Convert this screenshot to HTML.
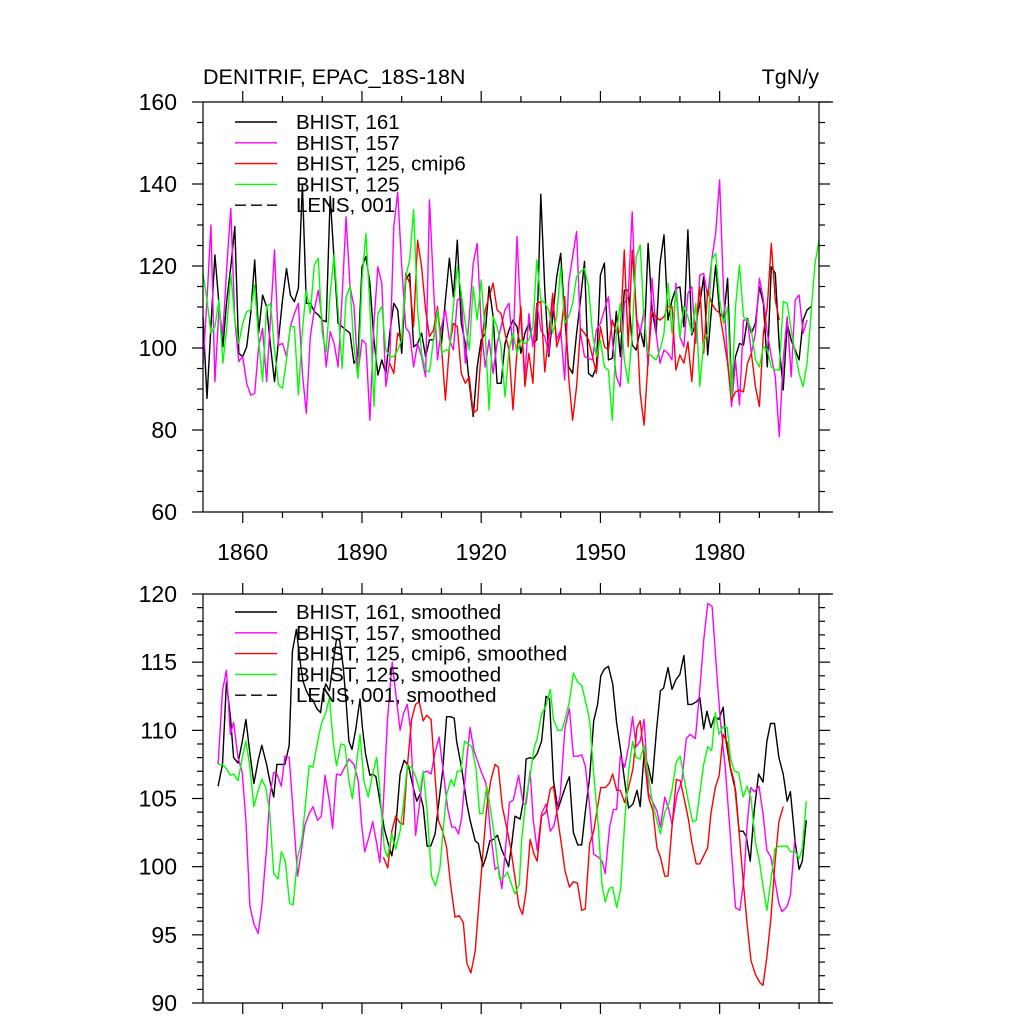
<!DOCTYPE html>
<html><head><meta charset="utf-8"><style>
html,body{margin:0;padding:0;background:#fff;}
svg{display:block;font-family:"Liberation Sans",sans-serif;}
</style></head><body>
<svg id="chart" width="1024" height="1024" viewBox="0 0 1024 1024" xmlns="http://www.w3.org/2000/svg">
<text x="203" y="84" font-size="21.5">DENITRIF, EPAC_18S-18N</text>
<text x="819" y="84" font-size="21.5" text-anchor="end">TgN/y</text>
<g id="top"></g>
<g id="bot"></g>
</svg>
<script>
// ---- top panel (annual) data ----
const topStartBlack = 1850;
const topBlack = [107.6,87.7,105.2,122.7,110.9,100.3,111.7,119.8,129.6,98.7,97.9,100.3,108.4,121.5,103.6,112.9,110.1,100.3,91.8,102.0,111.7,119.4,112.9,111.3,114.6,140,110.9,110.9,108.9,108.1,106.8,106.4,137,121.5,106.0,105.2,104.4,103.6,96.3,97.9,119.8,122.3,115.8,102.0,93.4,97.1,93.8,103.6,110.9,109.3,98.7,116.6,
118.2,100.3,101.1,103.6,97.9,102,102,109.3,101.1,111.7,121.9,112.5,126.3,106,101.1,91.4,83.3,95.4,102,103.6,115,107.6,91.4,91.4,101.1,104.4,106.8,105.2,98.7,103.6,106,101.1,102,137.5,114.1,97.9,107.6,117.4,123.1,107.6,95.4,93.8,103.6,111.7,121.1,93.8,93.0,95.4,117.8,120.7,
97.1,97.5,108.9,97.9,114.1,114.1,100.7,99.5,104.4,100.3,125.5,109.3,103.6,120.6,127.6,106.8,111.7,114.5,114.9,105.2,128.8,103.2,106,110.9,117.4,98.3,110.1,120.2,108.5,107.2,117,89.4,97.9,101.1,100.7,107.2,103.6,106,114.9,110.9,95.4,119.8,118.2,100.3,89.8,106,101.9,99.5,97.1,106.8,109.3,110.1];
const topStartMagenta = 1850;
const topMagenta = [96.3,111.7,130.0,91.8,109.3,103.6,119.8,134.1,106.8,96.7,97.9,91.4,88.5,88.9,100.3,104.8,91.8,107.6,123.9,100.7,101.1,97.9,105.2,108.4,110.9,93.8,84.1,102.8,109.3,114.1,106.8,95.4,104.0,101.1,95.4,112.5,132.0,115.0,110.1,93.8,102.0,101.1,82.4,106.0,119.8,115.8,90.6,97.1,129.6,138,120,105,
103.6,95.4,101.1,97.9,93,136.1,115,97.1,105.2,109.3,102,99.5,111.7,112.5,96.3,107.6,120.7,125.5,105.2,95.4,102,93.8,101.1,105.2,109.3,110.9,99.5,127.2,106.8,93,108.4,100.3,110.9,104.4,102.8,98.7,111.7,102,104.4,92.2,115.8,122.3,128.4,103.6,97.9,97.5,97.1,104.4,106,109.3,112.5,102,
93,90.6,110.9,112.5,133.2,107.6,103.6,109.3,95.8,117,103.6,96.3,99.5,98.7,97.1,115.8,102.7,100.3,113.3,114.9,101.1,117.8,118.2,112.5,121.5,128,141,113.3,97.1,85.7,97.1,86.1,106.8,106.8,98.7,103.6,117,111.7,103.6,97.9,93,78.4,97.1,107.6,93,111.7,112.9,103.6,106.8];
const topStartRed = 1897;
const topRed = [96.3,93.8,103.6,102,118.2,
115.8,105.2,126.3,119.8,109.3,102.8,104.4,110.1,100.3,87.3,100.3,106,105.2,93.8,91.4,93,84.1,84.9,99.5,109.3,112.5,115.8,109.3,108.4,103.6,99.5,84.9,99.5,110.1,90.6,98.7,91.4,110.9,111.3,94.2,103.6,113.3,100.3,103.6,112.5,93,82.4,90.6,104.8,103.6,102,97.9,93.8,
105.2,100.3,99.5,106.8,103.6,104,123.9,100.3,123.9,109.3,88.9,81.2,97.1,108.9,107.6,106.8,107.6,110.1,110.1,94.6,98.3,96.3,101.5,91.8,105.2,114.9,98.7,114.1,110.9,109.3,108.5,102.7,96.3,87.3,89.3,89.7,89.3,96.3,98.7,90.6,85.7,103.6,110.1,125.5,111.7,106.8];
const topStartGreen = 1850;
const topGreen = [118.2,111.7,103.6,105.2,111.7,96.3,105.2,118.2,106.8,101.1,106.0,108.9,109.3,115.4,102.0,91.8,110.1,110.9,99.5,91.0,90.2,97.1,105.2,105.2,88.5,104.4,114.1,108.4,120.2,121.9,103.6,99.1,113.3,122.7,109.3,95.0,112.5,115.0,100.3,92.6,116.6,128.0,110.1,85.7,108.4,110.1,99.5,97.9,97.9,99.5,102.0,117.4,
121.5,133.7,109.3,98.7,94.6,94.2,102,109.3,98.7,99.5,99.5,110.1,119.8,113.3,106,99.5,115,106.8,116.6,103.6,84.9,107.6,105.2,100.3,88.1,99.5,103.6,98.7,102,101.1,102,105.2,121.5,111.7,110.9,109.3,103.6,107.6,119.8,106,107.6,110.9,117.4,118.6,119.4,115,103.6,97.9,102,95.4,94.6,82.4,
103.6,110.9,97.1,91.4,103.6,122.3,125.1,106.8,98.7,97.9,97.1,99.5,103.6,115.8,103.6,114.1,102.7,110.1,107.6,103.6,110.9,90.6,101.5,103.6,121.5,123.1,111.7,106,110.1,88.1,110.1,120.2,107.6,106.8,104.4,97.1,95.4,100.3,99.5,95.4,94.6,94.6,111.3,110.9,104.4,98.7,93.8,90.6,96.3,108.5,120.6,126.3];

// ---- bottom panel (smoothed) data: years and values ----
const smBlackYears = [1853.8,1854.9,1855.9,1856.9,1857.7,1858.8,1859.9,1860.8,1861.8,1862.8,1863.9,1864.8,1866.0,1866.8,1867.8,1868.6,1869.7,1870.6,1871.7,1872.5,1873.5,1874.4,1875.2,1876.0,1876.9,1877.7,1878.6,1879.6,1880.2,1880.9,1881.8,1882.8,1883.6,1884.4,1885.3,1886.1,1886.7,1887.5,1888.4,1889.5,1890.1,1890.9,1892.0,1892.7,1893.5,1894.5,1895.6,1896.6,1897.5,1898.3,1899.6,1900.6,1901.7,1902.9,1903.8,1904.6,1905.4,1906.4,1907.3,1908.4,1909.2,1910.3,1911.3,1912.3,1913.2,1913.8,1915.1,1916.4,1917.2,1918.5,1919.3,1920.4,1921.2,1922.2,1923.1,1924.1,1925.2,1926.0,1926.9,1927.7,1928.5,1929.8,1930.6,1931.3,1932.3,1933.1,1934.1,1935.2,1936.3,1937.2,1938.2,1939.3,1940.3,1941.5,1942.2,1943.2,1944.3,1945.3,1946.2,1947.3,1948.3,1949.3,1950.1,1951.0,1952.0,1953.1,1954.1,1955.2,1956.3,1957.1,1958.2,1959.2,1960.0,1961.0,1962.1,1963.0,1964.1,1965.1,1965.9,1967.0,1968.0,1969.0,1970.0,1971.0,1972.0,1973.0,1974.2,1975.0,1976.0,1976.8,1977.8,1978.7,1979.8,1980.9,1981.6,1982.7,1984.0,1984.9,1985.9,1986.7,1987.7,1988.7,1989.8,1990.9,1991.9,1992.8,1993.8,1994.9,1996.0,1997.0,1997.8,1999.0,2000.0,2000.8,2001.8];
const smBlack = [105.9,107.5,113.5,111.0,108.0,107.6,109.2,110.8,108.3,106.1,107.8,108.9,107.5,106.3,105.1,107.5,107.5,107.5,108.9,115.8,117.4,115.1,113.6,112.9,112.4,112.2,111.6,111.3,112.7,113.4,112.9,115.1,116.7,116.6,114.6,111.7,109.2,108.6,110.0,112.3,110.2,108.3,106.7,106.8,106.6,104.8,102.8,101.7,100.8,102.2,106.8,107.8,107.4,105.8,104.8,105.3,104.4,101.5,101.5,102.4,104.4,107.0,111.0,111.0,110.9,109.2,107.2,104.6,103.4,101.9,101.7,100.0,100.7,101.9,102.0,102.3,101.2,100.7,100.0,101.7,103.7,103.5,104.8,107.9,108.0,107.9,108.3,109.2,112.5,112.3,106.3,104.2,105.1,106.1,106.6,102.5,101.6,101.6,104.0,106.6,110.7,111.9,114.0,114.5,114.7,113.4,110.5,108.3,105.8,104.3,104.6,105.6,104.4,108.3,107.3,106.1,110.0,112.9,113.1,114.6,113.0,113.7,114.1,115.5,111.9,111.9,112.1,112.4,110.1,111.4,110.2,111.0,110.8,111.7,109.2,107.2,105.6,102.6,102.6,102.2,100.4,104.1,106.8,106.2,109.2,110.5,110.5,108.0,106.8,104.8,105.5,101.8,99.8,100.4,103.4];
const smMagentaYears = [1853.8,1854.9,1855.9,1856.9,1857.7,1858.8,1859.9,1860.8,1861.8,1862.8,1863.9,1864.8,1866.0,1866.8,1867.8,1868.6,1869.7,1870.6,1871.7,1872.5,1873.8,1874.8,1875.6,1876.7,1877.7,1878.8,1879.8,1880.7,1881.8,1882.6,1883.6,1884.6,1885.7,1886.7,1888.0,1889.1,1889.9,1890.7,1891.8,1892.7,1893.7,1894.5,1895.4,1896.4,1897.6,1898.6,1899.6,1900.4,1901.4,1902.2,1903.5,1904.4,1905.4,1906.4,1907.4,1908.4,1909.4,1910.5,1911.6,1912.6,1913.4,1914.3,1915.1,1916.4,1917.2,1918.2,1919.0,1920.1,1921.2,1922.4,1923.5,1924.3,1925.2,1926.3,1927.1,1928.1,1929.4,1930.6,1931.3,1932.3,1933.1,1934.1,1935.2,1936.3,1937.4,1938.3,1939.9,1941.1,1942.2,1943.2,1944.3,1945.3,1946.2,1947.3,1948.3,1949.5,1950.4,1951.2,1952.3,1953.3,1954.1,1955.0,1956.1,1957.1,1958.1,1959.0,1960.0,1961.0,1962.1,1963.2,1964.2,1965.1,1966.2,1967.2,1968.0,1969.3,1970.5,1971.6,1972.6,1973.9,1975.0,1976.0,1977.0,1978.1,1979.2,1980.2,1981.4,1982.7,1984.0,1985.1,1986.1,1986.9,1987.8,1988.8,1989.9,1990.9,1991.9,1992.9,1993.9,1994.9,1995.7,1997.0,1997.8,1998.9];
const smMagenta = [107.5,112.9,114.4,109.7,110.6,108.0,106.9,103.4,97.1,95.8,95.1,97.1,101.4,105.2,106.9,106.8,105.9,108.1,108.0,104.8,99.3,101.3,103.0,103.9,104.4,103.4,103.7,106.7,104.8,102.8,106.8,106.7,107.3,107.9,107.5,106.2,103.1,101.1,102.2,103.3,101.7,100.3,104.7,110.7,115.0,112.5,110.0,111.2,111.9,110.1,102.3,104.4,106.9,107.0,106.8,108.4,109.5,106.9,104.2,102.9,102.9,102.4,103.6,108.0,110.2,108.5,107.8,106.9,106.1,102.4,99.8,100.0,98.4,101.9,104.7,104.9,106.7,104.6,104.6,107.0,103.4,101.2,103.9,104.6,102.6,103.0,105.3,110.2,111.6,108.1,108.1,108.2,107.4,104.4,100.9,100.7,100.4,99.5,102.9,104.2,104.2,108.1,107.3,108.8,111.0,108.8,109.2,110.8,105.4,104.7,104.1,102.9,105.1,104.2,103.1,105.3,106.3,109.4,109.7,109.4,113.0,116.6,119.3,119.1,114.5,110.7,107.3,102.2,97.0,96.8,99.1,103.0,105.8,105.5,105.9,103.9,101.2,100.7,99.0,97.3,96.7,97.1,97.9,102.0];
const smRedYears = [1895.4,1896.5,1897.5,1898.5,1899.6,1900.4,1901.4,1902.5,1903.5,1904.4,1905.4,1906.3,1907.4,1908.4,1909.2,1910.3,1911.3,1912.3,1913.4,1914.5,1915.5,1916.4,1917.4,1918.5,1919.3,1920.4,1921.4,1922.4,1923.5,1924.3,1925.3,1926.4,1927.4,1928.5,1929.5,1930.4,1931.3,1932.3,1933.3,1934.1,1935.2,1936.3,1937.4,1938.2,1939.3,1940.3,1941.1,1942.2,1943.2,1944.2,1945.3,1946.2,1947.3,1948.3,1949.3,1950.1,1951.2,1952.2,1953.1,1954.1,1955.0,1956.1,1957.1,1958.2,1959.2,1960.0,1961.0,1962.1,1963.2,1964.2,1965.1,1966.2,1967.0,1968.0,1969.1,1970.1,1971.2,1972.2,1973.0,1974.1,1975.0,1976.0,1977.0,1977.8,1978.9,1979.9,1980.9,1981.9,1982.7,1983.7,1984.8,1985.9,1986.9,1987.9,1989.0,1990.1,1990.9,1991.9,1992.9,1993.9,1994.9,1996.0];
const smRed = [100.7,99.9,102.6,103.7,103.2,103.1,107.3,110.8,111.9,112.1,110.7,111.1,110.8,106.6,103.4,102.6,101.4,98.7,96.3,96.4,95.9,92.9,92.2,93.8,96.8,100.9,104.4,106.3,107.5,107.3,104.4,102.9,101.4,99.2,97.1,96.5,98.2,102.0,100.9,100.4,103.7,104.0,105.7,105.9,103.4,101.4,99.7,98.5,98.9,98.8,96.8,96.9,101.7,102.6,104.4,105.8,105.8,106.1,106.8,105.6,105.6,104.7,105.8,107.2,110.2,110.7,108.1,105.1,104.1,101.4,100.7,99.3,99.3,102.9,106.4,106.3,104.8,103.4,101.8,100.2,100.2,100.8,101.4,103.9,105.8,106.7,109.7,109.1,107.3,106.2,102.9,99.0,95.8,93.1,92.1,91.5,91.3,93.4,96.2,100.2,103.3,104.4];
const smGreenYears = [1853.8,1854.9,1855.9,1856.9,1857.7,1858.8,1859.9,1860.8,1861.8,1862.8,1863.9,1864.8,1865.8,1866.8,1867.8,1868.9,1869.7,1870.7,1871.8,1872.7,1873.8,1874.8,1875.6,1876.7,1877.7,1878.7,1879.8,1880.9,1881.8,1882.8,1883.6,1884.7,1885.7,1886.7,1887.6,1888.6,1889.5,1890.5,1891.6,1892.6,1893.7,1894.5,1895.6,1896.4,1897.5,1898.5,1899.6,1900.4,1901.4,1902.5,1903.5,1904.6,1905.4,1906.4,1907.5,1908.5,1909.6,1910.5,1911.3,1912.4,1913.2,1914.0,1914.9,1915.8,1916.8,1917.6,1918.7,1919.6,1920.4,1921.4,1922.4,1923.5,1924.6,1925.6,1926.6,1927.4,1928.5,1929.6,1930.2,1931.3,1932.3,1933.3,1934.1,1935.2,1936.3,1937.4,1938.2,1939.3,1940.3,1941.1,1942.2,1943.2,1944.3,1945.3,1946.2,1947.3,1948.3,1949.5,1950.4,1951.2,1952.2,1953.1,1954.1,1955.1,1956.1,1957.1,1958.1,1959.0,1960.0,1961.0,1962.1,1963.2,1964.2,1965.1,1966.2,1967.2,1968.0,1969.1,1970.1,1971.2,1972.2,1973.2,1974.1,1975.0,1976.0,1977.0,1978.0,1978.9,1979.9,1980.9,1981.9,1982.7,1983.7,1984.8,1985.9,1986.9,1987.9,1989.0,1990.0,1990.9,1991.9,1992.9,1993.9,1994.9,1996.0,1997.0,1997.8,1999.0,2000.0,2000.8,2001.8];
const smGreen = [107.5,107.5,107.2,106.7,106.8,106.3,108.0,109.2,107.3,104.4,105.6,106.4,105.8,103.9,99.5,99.1,101.1,100.4,97.3,97.2,100.7,101.8,104.0,107.4,107.3,109.0,110.5,111.3,112.4,109.0,107.4,109.0,108.9,106.3,105.0,107.5,109.7,106.2,105.1,106.7,108.0,105.6,101.4,100.7,102.4,101.3,102.6,104.5,107.4,107.3,106.6,105.5,107.0,104.1,99.3,98.6,99.9,102.9,105.3,106.4,105.9,107.0,107.0,109.2,109.0,108.8,107.2,103.9,103.9,105.9,104.1,101.9,99.1,99.2,99.6,98.9,98.0,98.7,102.0,105.1,106.7,108.7,109.4,111.2,111.8,113.0,110.8,110.0,110.0,110.8,112.1,114.2,113.5,113.3,112.2,110.7,106.8,102.9,98.7,97.4,98.4,98.5,97.0,98.4,103.3,107.0,109.2,108.0,107.9,108.9,106.6,104.5,103.4,102.4,104.0,104.6,105.6,107.7,108.1,106.2,104.7,103.3,103.4,105.4,107.5,108.8,108.5,111.3,109.7,110.3,110.2,108.0,107.0,106.9,105.1,105.9,105.0,101.8,100.4,98.6,96.8,99.0,101.3,101.5,101.5,101.5,101.1,101.1,100.6,101.3,104.8];

const topLegendLabels = ["BHIST, 161","BHIST, 157","BHIST, 125, cmip6","BHIST, 125","LENS, 001"];
const botLegendLabels = ["BHIST, 161, smoothed","BHIST, 157, smoothed","BHIST, 125, cmip6, smoothed","BHIST, 125, smoothed","LENS, 001, smoothed"];
const xMajorTicks = [1860,1890,1920,1950,1980];
const topYTicks = [60,80,100,120,140,160];
const botYTicks = [90,95,100,105,110,115,120];

const NS = "http://www.w3.org/2000/svg";
const X0 = 203, X1 = 819, YEAR0 = 1850, YEAR1 = 2005;
function xs(yr){ return X0 + (yr - YEAR0) / (YEAR1 - YEAR0) * (X1 - X0); }
function mk(tag, attrs, parent){
  const e = document.createElementNS(NS, tag);
  for (const k in attrs) e.setAttribute(k, attrs[k]);
  parent.appendChild(e);
  return e;
}
const colors = ["#000000","#ff00ff","#ff0000","#00ff00","#000000"];

function panel(g, yTop, yBot, vMin, vMax, majorStep, minorStep, series){
  const ys = v => yBot - (v - vMin) / (vMax - vMin) * (yBot - yTop);
  series.forEach((s, i) => {
    const pts = [];
    for (let k = 0; k < s.vals.length; k++) {
      if (s.years[k] > YEAR1) continue;
      pts.push(xs(s.years[k]).toFixed(1) + "," + ys(s.vals[k]).toFixed(1));
    }
    const pl = mk("polyline", {points: pts.join(" "), fill: "none", stroke: s.color, "stroke-width": 1.4, "stroke-linejoin": "round"}, g);
    
    
  });
  const fr = mk("g", {stroke: "#000", "stroke-width": 1.2}, g);
  
  
  mk("line", {x1: X0, y1: yTop, x2: 833, y2: yTop}, fr);
  mk("line", {x1: X0, y1: yBot, x2: 833, y2: yBot}, fr);
  mk("line", {x1: X0, y1: yTop, x2: X0, y2: yBot}, fr);
  mk("line", {x1: X1, y1: yTop, x2: X1, y2: yBot}, fr);
  for (let v = vMin; v <= vMax + 1e-6; v += minorStep) {
    const y = ys(v);
    const major = Math.abs((v - vMin) / majorStep - Math.round((v - vMin) / majorStep)) < 1e-6;
    const len = major ? 11 : 6;
    mk("line", {x1: X0 - len, y1: y, x2: X0, y2: y}, fr);
    mk("line", {x1: X1, y1: y, x2: X1 + len, y2: y}, fr);
  }
  for (let yr = 1860; yr <= 2000; yr += 10) {
    const x = xs(yr);
    const major = xMajorTicks.indexOf(yr) >= 0;
    const len = major ? 11 : 6;
    mk("line", {x1: x, y1: yTop, x2: x, y2: yTop - len}, fr);
    mk("line", {x1: x, y1: yBot, x2: x, y2: yBot + len}, fr);
  }
  return ys;
}

function labelsY(g, ys, ticks){
  ticks.forEach(v => {
    const t = mk("text", {x: 177, y: ys(v) + 8, "font-size": 23, "text-anchor": "end"}, g);
    t.textContent = String(v);
    
    
  });
}
function legend(g, labels, y0){
  labels.forEach((lab, i) => {
    const y = y0 + i * 20.8;
    const ln = mk("line", {x1: 235, y1: y, x2: 277, y2: y, stroke: colors[i], "stroke-width": 1.4}, g);
    if (i === 4) ln.setAttribute("stroke-dasharray", "11,5");
    
    
    const t = mk("text", {x: 296, y: y + 7, "font-size": 20.5}, g);
    t.textContent = lab;
    
    
  });
}
function yearsFrom(start, n){ const a = []; for (let i = 0; i < n; i++) a.push(start + i); return a; }

const gTop = document.getElementById("top");
const ysTop = panel(gTop, 102, 512, 60, 160, 20, 5, [
  {years: yearsFrom(topStartBlack, topBlack.length), vals: topBlack, color: colors[0], name: "line-bhist-161"},
  {years: yearsFrom(topStartMagenta, topMagenta.length), vals: topMagenta, color: colors[1], name: "line-bhist-157"},
  {years: yearsFrom(topStartRed, topRed.length), vals: topRed, color: colors[2], name: "line-bhist-125-cmip6"},
  {years: yearsFrom(topStartGreen, topGreen.length), vals: topGreen, color: colors[3], name: "line-bhist-125"}
]);
labelsY(gTop, ysTop, topYTicks);
legend(gTop, topLegendLabels, 122);
xMajorTicks.forEach(yr => {
  const t = mk("text", {x: xs(yr), y: 560, "font-size": 23, "text-anchor": "middle"}, gTop);
  t.textContent = String(yr);
  
  
});

const gBot = document.getElementById("bot");
const ysBot = panel(gBot, 594, 1003, 90, 120, 5, 1, [
  {years: smBlackYears, vals: smBlack, color: colors[0], name: "line-bhist-161-smoothed"},
  {years: smMagentaYears, vals: smMagenta, color: colors[1], name: "line-bhist-157-smoothed"},
  {years: smRedYears, vals: smRed, color: colors[2], name: "line-bhist-125-cmip6-smoothed"},
  {years: smGreenYears, vals: smGreen, color: colors[3], name: "line-bhist-125-smoothed"}
]);
labelsY(gBot, ysBot, botYTicks);
legend(gBot, botLegendLabels, 612);
</script>
</body></html>
